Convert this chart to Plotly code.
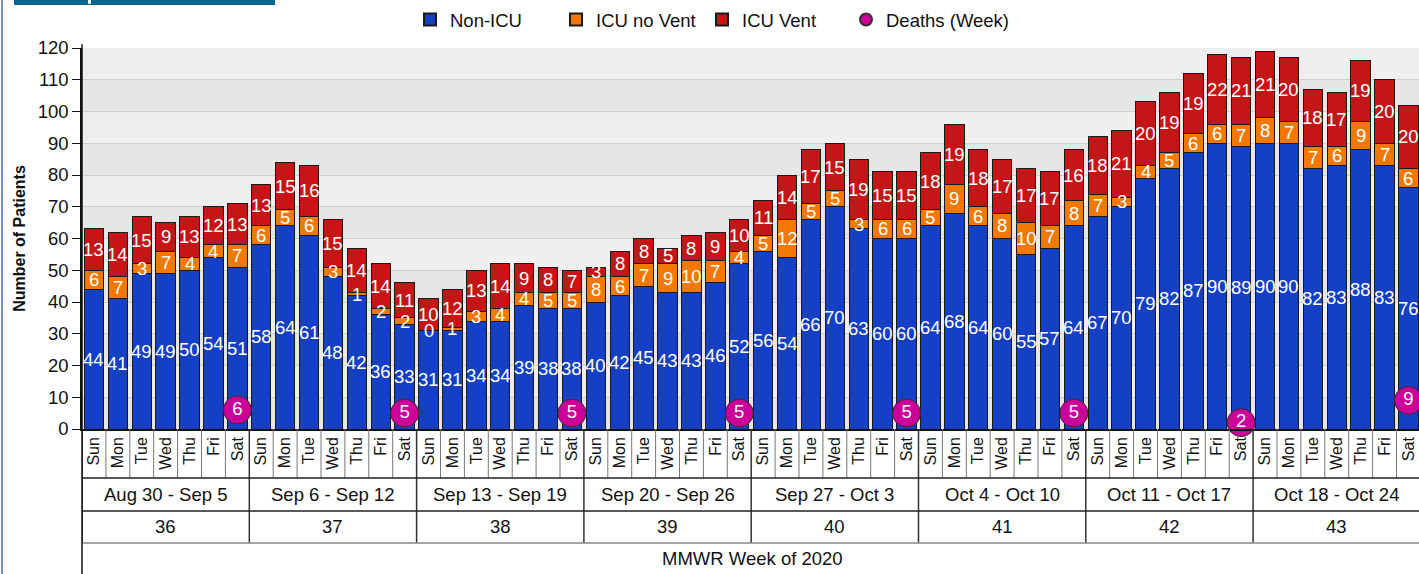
import plotly.graph_objects as go

days = ["Sun", "Mon", "Tue", "Wed", "Thu", "Fri", "Sat"] * 8
week_ranges = ["Aug 30 - Sep 5", "Sep 6 - Sep 12", "Sep 13 - Sep 19", "Sep 20 - Sep 26",
               "Sep 27 - Oct 3", "Oct 4 - Oct 10", "Oct 11 - Oct 17", "Oct 18 - Oct 24"]
week_numbers = ["36", "37", "38", "39", "40", "41", "42", "43"]

non_icu = [44, 41, 49, 49, 50, 54, 51,
           58, 64, 61, 48, 42, 36, 33,
           31, 31, 34, 34, 39, 38, 38,
           40, 42, 45, 43, 43, 46, 52,
           56, 54, 66, 70, 63, 60, 60,
           64, 68, 64, 60, 55, 57, 64,
           67, 70, 79, 82, 87, 90, 89,
           90, 90, 82, 83, 88, 83, 76]
icu_no_vent = [6, 7, 3, 7, 4, 4, 7,
               6, 5, 6, 3, 1, 2, 2,
               0, 1, 3, 4, 4, 5, 5,
               8, 6, 7, 9, 10, 7, 4,
               5, 12, 5, 5, 3, 6, 6,
               5, 9, 6, 8, 10, 7, 8,
               7, 3, 4, 5, 6, 6, 7,
               8, 7, 7, 6, 9, 7, 6]
icu_vent = [13, 14, 15, 9, 13, 12, 13,
            13, 15, 16, 15, 14, 14, 11,
            10, 12, 13, 14, 9, 8, 7,
            3, 8, 8, 5, 8, 9, 10,
            11, 14, 17, 15, 19, 15, 15,
            18, 19, 18, 17, 17, 17, 16,
            18, 21, 20, 19, 19, 22, 21,
            21, 20, 18, 17, 19, 20, 20]
deaths_week = [6, 5, 5, 5, 5, 5, 2, 9]

FONT = "Liberation Sans, Arial, sans-serif"
BLUE = "#1540c4"
ORANGE = "#f27800"
RED = "#c41616"
MAGENTA = "#cc0099"
BIG = 18.5

x = list(range(len(days)))
sat_x = [7 * k + 6 for k in range(len(deaths_week))]

fig = go.Figure()
line = dict(color="#1a1a1a", width=1)
fig.add_trace(go.Bar(x=x, y=non_icu, name="Non-ICU", marker=dict(color=BLUE, line=line)))
fig.add_trace(go.Bar(x=x, y=icu_no_vent, name="ICU no Vent", marker=dict(color=ORANGE, line=line)))
fig.add_trace(go.Bar(x=x, y=icu_vent, name="ICU Vent", marker=dict(color=RED, line=line)))
fig.add_trace(go.Scatter(x=sat_x, y=deaths_week, name="Deaths (Week)", mode="markers+text",
                         text=[str(v) for v in deaths_week], textposition="middle center",
                         textfont=dict(color="white", size=BIG, family=FONT),
                         marker=dict(color=MAGENTA, size=28, line=dict(color="#333333", width=1)),
                         cliponaxis=False, legend="legend2"))

annotations = []
for i in x:
    segs = [(0, non_icu[i]), (non_icu[i], icu_no_vent[i]),
            (non_icu[i] + icu_no_vent[i], icu_vent[i])]
    for base, v in segs:
        annotations.append(dict(x=i, y=base + v / 2, xref="x", yref="y", text=str(v),
                                xanchor="center", yanchor="middle",
                                showarrow=False, font=dict(color="white", size=BIG, family=FONT)))

# Paper coordinates for table rows below the plot
row1 = -0.1286
row2 = -0.2152
row3 = -0.2992
row4 = -0.3806
for k in range(len(week_ranges)):
    annotations.append(dict(x=7 * k + 3, y=(row1 + row2) / 2, xref="x", yref="paper",
                            xanchor="center", yanchor="middle",
                            text=week_ranges[k], showarrow=False,
                            font=dict(size=BIG, color="#111", family=FONT)))
    annotations.append(dict(x=7 * k + 3, y=(row2 + row3) / 2, xref="x", yref="paper",
                            xanchor="center", yanchor="middle",
                            text=week_numbers[k], showarrow=False,
                            font=dict(size=BIG, color="#111", family=FONT)))
annotations.append(dict(x=(752 - 82) / 1337, y=(row3 + row4) / 2, xref="paper", yref="paper",
                        xanchor="center", yanchor="middle",
                        text="MMWR Week of 2020", showarrow=False,
                        font=dict(size=BIG, color="#111", family=FONT)))

shapes = []
# alternating background bands
for k in range(12):
    shapes.append(dict(type="rect", xref="paper", yref="y", x0=0, x1=1, y0=10 * k, y1=10 * k + 10,
                       fillcolor="#e6e6e6" if k % 2 == 0 else "#efefef", line=dict(width=0),
                       layer="below"))
# day separators
for i in range(len(days) + 1):
    xs = i - 0.5
    if i % 7 == 0:
        shapes.append(dict(type="line", xref="x", yref="paper", x0=xs, x1=xs, y0=0, y1=row3,
                           line=dict(color="#333333", width=1.5)))
    else:
        shapes.append(dict(type="line", xref="x", yref="paper", x0=xs, x1=xs, y0=0, y1=row1,
                           line=dict(color="#777777", width=1)))
for yy, col in [(row1, "#222222"), (row2, "#222222"), (row3, "#888888")]:
    shapes.append(dict(type="line", xref="paper", yref="paper", x0=0, x1=1, y0=yy, y1=yy,
                       line=dict(color=col, width=1.5)))
# left border of chart
shapes.append(dict(type="line", xref="paper", yref="paper", x0=0, x1=0, y0=1.01, y1=row4,
                   line=dict(color="#111111", width=1.5)))
# page decorations
shapes.append(dict(type="line", xref="paper", yref="paper", x0=-0.0598, x1=-0.0598, y0=1.13, y1=row4,
                   line=dict(color="#6f95c8", width=2)))
shapes.append(dict(type="rect", xref="paper", yref="paper", x0=-0.0509, x1=0.1444, y0=1.113, y1=1.13,
                   fillcolor="#00668f", line=dict(width=0)))
shapes.append(dict(type="rect", xref="paper", yref="paper", x0=0.0045, x1=0.0067, y0=1.116, y1=1.13,
                   fillcolor="white", line=dict(width=0)))

legend_common = dict(orientation="h", yanchor="middle", y=1.0735, xanchor="left",
                     font=dict(size=BIG, family=FONT), bgcolor="rgba(0,0,0,0)",
                     itemsizing="constant")

fig.update_layout(
    width=1419, height=574,
    margin=dict(l=82, r=0, t=48, b=145, autoexpand=False),
    barmode="stack", bargap=0.19,
    plot_bgcolor="#efefef", paper_bgcolor="white",
    font=dict(family=FONT, color="#111"),
    showlegend=True,
    legend=dict(legend_common, x=(410 - 82) / 1337, traceorder="normal",
                entrywidth=101, entrywidthmode="pixels"),
    legend2=dict(legend_common, x=(846 - 82) / 1337),
    xaxis=dict(range=[-0.5, -0.5 + 1337 / 23.9], tickmode="array", tickvals=x, ticktext=days,
               tickangle=-90, ticks="", showgrid=False, zeroline=False, showline=True,
               linecolor="#111", linewidth=1.5, automargin=False,
               tickfont=dict(size=16, family=FONT, color="#111")),
    yaxis=dict(range=[0, 120], tickmode="array", tickvals=list(range(0, 121, 10)),
               ticks="outside", ticklen=8, tickcolor="#111", showline=True, linecolor="#111",
               linewidth=1.5, showgrid=True, gridcolor="#cfcfcf", gridwidth=1, zeroline=False,
               automargin=False,
               tickfont=dict(size=BIG, family=FONT, color="#111"),
               title=dict(text="<b>Number of Patients</b>", font=dict(size=16, family=FONT, color="#111"),
                          standoff=8)),
    annotations=annotations,
    shapes=shapes,
)

fig.write_html("out.html", config={"displayModeBar": False},
               post_script="document.body.style.margin='0px';")
